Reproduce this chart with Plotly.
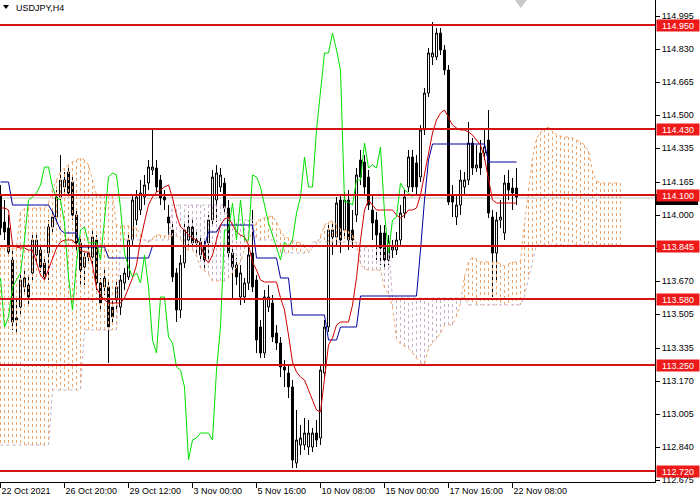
import plotly.graph_objects as go

# ---------------- data ----------------
tick_bars = [0, 16, 32, 48, 64, 80, 96, 112, 128]
tick_labels = ["22 Oct 2021", "26 Oct 20:00", "29 Oct 12:00", "3 Nov 00:00", "5 Nov 16:00",
               "10 Nov 08:00", "15 Nov 00:00", "17 Nov 16:00", "22 Nov 08:00"]
price_ticks = [114.995, 114.830, 114.665, 114.500, 114.335, 114.165, 114.000, 113.835,
               113.670, 113.505, 113.335, 113.170, 113.005, 112.840, 112.675]
hidden_ticks = [113.835]
levels = [114.950, 114.430, 114.100, 113.845, 113.580, 113.250, 112.720]
bid_price = 114.085

open_ = [114.100, 113.965, 113.935, 113.775, 113.475, 113.540, 113.640, 113.650, 113.710, 113.800,
         113.825, 113.760, 113.810, 113.940, 113.990, 114.090, 114.140, 114.215, 114.165, 114.000,
         113.860, 113.740, 113.790, 113.790, 113.875, 113.660, 113.640, 113.640, 113.540, 113.575,
         113.540, 113.660, 113.690, 113.875, 113.975, 114.025, 114.090, 114.160, 114.225, 114.235,
         114.175, 114.090, 113.990, 113.925, 113.710, 113.525, 113.760, 113.875, 113.940, 113.875,
         113.800, 113.840, 113.860, 113.975, 114.075, 114.140, 114.160, 114.035, 113.810, 113.750,
         113.590, 113.590, 113.660, 113.810, 113.675, 113.440, 113.310, 113.540, 113.560, 113.410,
         113.360, 113.240, 113.210, 113.140, 112.760, 112.850, 112.850, 112.840, 112.840, 112.910,
         112.885, 113.210, 113.440, 113.890, 113.890, 114.075, 113.925, 114.075, 113.925, 114.000,
         114.275, 114.265, 114.190, 114.025, 113.975, 113.910, 113.910, 113.775, 113.825, 113.825,
         113.875, 114.010, 114.140, 114.290, 114.260, 114.190, 114.425, 114.610, 114.790, 114.790,
         114.910, 114.825, 114.725, 114.100, 113.990, 114.050, 114.140, 114.175, 114.360, 114.235,
         114.310, 114.310, 114.375, 113.990, 113.810, 113.975, 113.910, 114.160, 114.135, 114.135]
high = [114.150, 114.075, 114.000, 113.825, 113.575, 113.715, 113.725, 113.700, 113.915, 113.915,
        113.850, 113.785, 113.975, 114.025, 114.125, 114.300, 114.215, 114.250, 114.200, 114.025,
        113.885, 113.825, 113.850, 113.925, 113.900, 113.685, 113.725, 113.675, 113.575, 113.675,
        113.700, 113.735, 113.915, 114.100, 114.125, 114.175, 114.200, 114.275, 114.435, 114.275,
        114.200, 114.125, 114.050, 113.965, 113.735, 113.800, 113.965, 114.000, 113.975, 113.915,
        113.900, 113.875, 114.000, 114.225, 114.250, 114.235, 114.185, 114.075, 113.850, 113.785,
        113.750, 113.685, 113.850, 114.025, 113.700, 113.475, 113.625, 113.650, 113.600, 113.450,
        113.390, 113.275, 113.250, 113.175, 113.025, 112.950, 112.985, 112.975, 112.935, 112.975,
        113.250, 113.475, 113.950, 113.965, 114.090, 114.100, 114.115, 114.125, 114.025, 114.235,
        114.325, 114.300, 114.225, 114.100, 114.015, 113.950, 113.950, 113.900, 113.875, 113.915,
        114.050, 114.125, 114.325, 114.325, 114.300, 114.450, 114.635, 114.835, 114.965, 114.935,
        114.935, 114.850, 114.750, 114.150, 114.100, 114.225, 114.215, 114.465, 114.385, 114.350,
        114.375, 114.435, 114.525, 114.025, 114.015, 114.075, 114.200, 114.225, 114.185, 114.235]
low = [113.900, 113.875, 113.800, 113.425, 113.415, 113.500, 113.600, 113.550, 113.675, 113.765,
       113.715, 113.660, 113.675, 113.915, 113.965, 114.075, 114.100, 114.085, 113.975, 113.825,
       113.650, 113.650, 113.765, 113.750, 113.625, 113.525, 113.600, 113.260, 113.450, 113.525,
       113.500, 113.625, 113.675, 113.850, 113.950, 114.000, 114.050, 114.125, 114.200, 114.115,
       114.050, 114.025, 113.900, 113.665, 113.465, 113.485, 113.735, 113.850, 113.825, 113.800,
       113.765, 113.735, 113.765, 113.950, 113.965, 114.115, 114.000, 113.785, 113.575, 113.650,
       113.550, 113.560, 113.625, 113.615, 113.310, 113.285, 113.285, 113.515, 113.365, 113.325,
       113.190, 113.140, 113.085, 112.735, 112.735, 112.800, 112.825, 112.800, 112.815, 112.840,
       112.850, 113.185, 113.415, 113.800, 113.850, 113.810, 113.890, 113.825, 113.835, 113.965,
       114.150, 114.100, 114.025, 113.875, 113.775, 113.750, 113.735, 113.750, 113.785, 113.800,
       113.850, 113.985, 114.115, 114.115, 114.100, 114.165, 114.400, 114.590, 114.750, 114.775,
       114.800, 114.700, 114.050, 113.990, 113.950, 114.000, 114.100, 114.150, 114.200, 114.215,
       114.200, 114.275, 113.985, 113.590, 113.660, 113.935, 113.875, 114.075, 114.025, 114.050]
close = [113.935, 113.915, 113.815, 113.465, 113.485, 113.675, 113.685, 113.590, 113.875, 113.875,
         113.740, 113.690, 113.940, 113.990, 114.090, 114.175, 114.175, 114.110, 114.000, 113.860,
         113.725, 113.790, 113.810, 113.890, 113.660, 113.560, 113.685, 113.440, 113.490, 113.640,
         113.675, 113.710, 113.875, 114.075, 114.090, 114.110, 114.150, 114.240, 114.240, 114.140,
         114.085, 114.075, 113.960, 113.690, 113.525, 113.760, 113.925, 113.940, 113.860, 113.860,
         113.865, 113.775, 113.975, 114.190, 114.210, 114.200, 114.035, 113.810, 113.740, 113.690,
         113.710, 113.660, 113.800, 113.640, 113.375, 113.310, 113.590, 113.590, 113.390, 113.360,
         113.240, 113.225, 113.140, 112.775, 112.875, 112.885, 112.910, 112.910, 112.910, 112.875,
         113.225, 113.440, 113.925, 113.925, 114.060, 113.875, 114.075, 113.875, 113.875, 114.200,
         114.190, 114.140, 114.050, 113.960, 113.900, 113.835, 113.775, 113.865, 113.840, 113.875,
         114.010, 114.090, 114.290, 114.140, 114.140, 114.425, 114.610, 114.810, 114.810, 114.910,
         114.825, 114.725, 114.065, 114.065, 114.050, 114.175, 114.175, 114.360, 114.235, 114.250,
         114.235, 114.340, 114.010, 113.810, 113.975, 113.990, 114.160, 114.125, 114.110, 114.090]

tenkan = [114.035, 114.035, 114.025, 113.850, 113.840, 113.835, 113.835, 113.825, 113.825, 113.765,
          113.700, 113.675, 113.725, 113.785, 113.835, 113.865, 113.875, 113.875, 113.875, 113.850,
          113.825, 113.815, 113.815, 113.750, 113.635, 113.600, 113.575, 113.560, 113.560, 113.560,
          113.560, 113.585, 113.635, 113.685, 113.750, 113.875, 113.965, 114.050, 114.090, 114.115,
          114.125, 114.140, 114.150, 114.085, 114.000, 113.940, 113.925, 113.900, 113.885, 113.875,
          113.860, 113.785, 113.760, 113.800, 113.875, 113.950, 113.980, 113.990, 113.950, 113.915,
          113.900, 113.890, 113.850, 113.765, 113.725, 113.675, 113.665, 113.665, 113.665, 113.665,
          113.585, 113.525, 113.400, 113.265, 113.215, 113.190, 113.175, 113.125, 113.075, 113.025,
          113.015, 113.175, 113.350, 113.385, 113.450, 113.465, 113.465, 113.465, 113.550, 113.685,
          113.875, 114.025, 114.075, 114.050, 114.025, 114.025, 114.025, 114.025, 114.025, 114.000,
          113.985, 114.000, 114.025, 114.025, 114.035, 114.100, 114.200, 114.300, 114.410, 114.475,
          114.510, 114.525, 114.485, 114.450, 114.435, 114.425, 114.425, 114.415, 114.400, 114.375,
          114.350, 114.285, 114.175, 114.075, 114.060, 114.060, 114.060, 114.060, 114.060, 114.060]
kijun = [114.165, 114.165, 114.165, 114.050, 114.050, 114.050, 114.050, 114.050, 114.050, 114.050,
         114.050, 114.050, 114.050, 114.015, 113.965, 113.925, 113.910, 113.910, 113.910, 113.910,
         113.840, 113.840, 113.840, 113.840, 113.840, 113.840, 113.840, 113.785, 113.785, 113.785,
         113.785, 113.785, 113.785, 113.785, 113.785, 113.785, 113.785, 113.785, 113.845, 113.845,
         113.845, 113.845, 113.845, 113.845, 113.845, 113.845, 113.845, 113.845, 113.845, 113.845,
         113.845, 113.845, 113.915, 113.915, 113.915, 113.950, 113.950, 113.950, 113.950, 113.950,
         113.950, 113.950, 113.950, 113.950, 113.785, 113.785, 113.785, 113.785, 113.785, 113.785,
         113.685, 113.685, 113.685, 113.500, 113.500, 113.500, 113.500, 113.500, 113.500, 113.500,
         113.500, 113.500, 113.375, 113.375, 113.375, 113.440, 113.440, 113.440, 113.440, 113.440,
         113.595, 113.595, 113.595, 113.595, 113.595, 113.595, 113.595, 113.595, 113.595, 113.595,
         113.595, 113.595, 113.595, 113.595, 113.595, 113.825, 114.075, 114.275, 114.355, 114.355,
         114.355, 114.355, 114.355, 114.355, 114.355, 114.355, 114.355, 114.355, 114.355, 114.355,
         114.355, 114.355, 114.265, 114.265, 114.265, 114.265, 114.265, 114.265, 114.265, 114.265]

span_a = [113.835, 113.835, 113.835, 113.835, 113.835, 114.015, 114.035, 114.035, 114.035, 114.035,
          114.035, 114.035, 114.060, 114.125, 114.175, 114.215, 114.235, 114.250, 114.265, 114.275,
          114.285, 114.275, 114.250, 114.175, 114.100, 114.100, 114.100, 114.100, 114.095, 113.950,
          113.945, 113.945, 113.945, 113.935, 113.935, 113.905, 113.875, 113.860, 113.885, 113.900,
          113.900, 113.895, 113.895, 113.895, 113.895, 113.880, 113.835, 113.825, 113.825, 113.795,
          113.735, 113.720, 113.705, 113.670, 113.670, 113.670, 113.670, 113.685, 113.710, 113.735,
          113.765, 113.830, 113.875, 113.915, 113.965, 113.980, 113.985, 113.990, 113.995, 113.965,
          113.920, 113.890, 113.885, 113.870, 113.865, 113.860, 113.850, 113.815, 113.835, 113.855,
          113.895, 113.950, 113.965, 113.970, 113.950, 113.930, 113.925, 113.920, 113.900, 113.855,
          113.755, 113.730, 113.725, 113.725, 113.725, 113.725, 113.635, 113.605, 113.540, 113.380,
          113.355, 113.345, 113.335, 113.310, 113.285, 113.260, 113.255, 113.335, 113.360, 113.380,
          113.410, 113.450, 113.450, 113.450, 113.495, 113.560, 113.690, 113.765, 113.790, 113.780,
          113.765, 113.765, 113.765, 113.765, 113.765, 113.755, 113.745, 113.755, 113.765, 113.765,
          113.770, 113.960, 114.135, 114.285, 114.380, 114.415, 114.430, 114.440, 114.420, 114.400,
          114.395, 114.390, 114.390, 114.385, 114.375, 114.365, 114.350, 114.320, 114.220, 114.170,
          114.160, 114.160, 114.160, 114.160, 114.160, 114.160]
span_b = [112.850, 112.850, 112.850, 112.850, 112.850, 112.850, 112.850, 112.850, 112.850, 112.850,
          112.850, 112.850, 112.850, 113.125, 113.125, 113.125, 113.125, 113.125, 113.125, 113.125,
          113.125, 113.425, 113.425, 113.425, 113.425, 113.425, 113.425, 113.425, 113.425, 113.425,
          113.875, 113.875, 113.875, 113.875, 113.875, 113.875, 113.875, 113.875, 113.875, 113.875,
          113.875, 113.875, 113.875, 114.050, 114.050, 114.050, 114.050, 114.050, 114.050, 114.050,
          114.050, 114.050, 114.050, 114.050, 114.050, 114.050, 114.050, 113.975, 113.975, 113.975,
          113.975, 113.975, 113.975, 113.975, 113.875, 113.875, 113.875, 113.875, 113.875, 113.875,
          113.810, 113.810, 113.810, 113.810, 113.810, 113.810, 113.810, 113.810, 113.865, 113.865,
          113.865, 113.865, 113.865, 113.865, 113.865, 113.865, 113.865, 113.865, 113.865, 113.865,
          113.840, 113.840, 113.840, 113.840, 113.840, 113.840, 113.840, 113.840, 113.585, 113.585,
          113.585, 113.585, 113.585, 113.585, 113.585, 113.585, 113.585, 113.585, 113.585, 113.585,
          113.585, 113.585, 113.585, 113.585, 113.585, 113.585, 113.585, 113.550, 113.550, 113.550,
          113.550, 113.550, 113.550, 113.550, 113.550, 113.550, 113.550, 113.550, 113.550, 113.550,
          113.550, 113.595, 113.680, 113.775, 113.850, 113.850, 113.850, 113.850, 113.850, 113.850,
          113.850, 113.850, 113.850, 113.850, 113.850, 113.850, 113.850, 113.850, 113.850, 113.850,
          113.850, 113.850, 113.850, 113.850, 113.850, 113.850]

CHIKOU_SHIFT = 26

# ---------------- figure ----------------
bars = list(range(len(close)))
cloud_bars = list(range(len(span_a)))

FONT = "Liberation Sans, Arial, sans-serif"
SANDY = "#EFA56A"
THISTLE = "#C9AFC9"

fig = go.Figure()

ox, oy, tx, ty = [], [], [], []
for i, a, b in zip(cloud_bars, span_a, span_b):
    if a >= b:
        ox += [i, i, None]; oy += [a, b, None]
    else:
        tx += [i, i, None]; ty += [a, b, None]

fig.add_trace(go.Scatter(x=ox, y=oy, mode="lines", line=dict(color=SANDY, width=1, dash="3px,3px"),
                         hoverinfo="skip"))
fig.add_trace(go.Scatter(x=tx, y=ty, mode="lines", line=dict(color=THISTLE, width=1, dash="3px,3px"),
                         hoverinfo="skip"))
fig.add_trace(go.Scatter(x=cloud_bars, y=span_a, mode="lines", line=dict(color=SANDY, width=1, dash="3px,3px"),
                         hoverinfo="skip"))
fig.add_trace(go.Scatter(x=cloud_bars, y=span_b, mode="lines", line=dict(color=THISTLE, width=1, dash="3px,3px"),
                         hoverinfo="skip"))

fig.add_trace(go.Candlestick(
    x=bars, open=open_, high=high, low=low, close=close,
    increasing=dict(line=dict(color="black", width=1), fillcolor="white"),
    decreasing=dict(line=dict(color="black", width=1), fillcolor="black"),
    whiskerwidth=0, hoverinfo="skip"))

fig.add_trace(go.Scatter(x=bars, y=kijun, mode="lines", line=dict(color="#0000A0", width=1), hoverinfo="skip"))
fig.add_trace(go.Scatter(x=bars, y=tenkan, mode="lines", line=dict(color="#D00000", width=1), hoverinfo="skip"))
fig.add_trace(go.Scatter(x=bars[:-CHIKOU_SHIFT], y=close[CHIKOU_SHIFT:], mode="lines",
                         line=dict(color="#00E000", width=1), hoverinfo="skip"))

PLOT_W, PLOT_H = 655, 482
YSPAN = 115.075 - 112.665

shapes = []
shapes.append(dict(type="line", xref="paper", x0=0, x1=1, yref="y", y0=bid_price, y1=bid_price,
                   line=dict(color="#C0C0C0", width=1), layer="below"))
for lv in levels:
    shapes.append(dict(type="line", xref="paper", x0=0, x1=1, yref="y", y0=lv, y1=lv,
                       line=dict(color="#D41414", width=2)))
# current-price box (mostly hidden under the 114.100 label)
shapes.append(dict(type="rect", xref="paper", x0=1 + 1 / PLOT_W, x1=1 + 43 / PLOT_W, yref="y",
                   y0=bid_price - 7 * YSPAN / PLOT_H, y1=bid_price + 4 * YSPAN / PLOT_H,
                   fillcolor="black", line=dict(width=0)))
# chart-shift marker and title triangle
shapes.append(dict(type="path", xref="x", yref="paper", path="M 128.6,1 L 131.6,1 L 130.1,0.9834 Z",
                   fillcolor="#C8C8C8", line=dict(width=0)))
shapes.append(dict(type="path", xref="paper", yref="paper",
                   path="M 0.0046,0.9896 L 0.0137,0.9896 L 0.0092,0.9813 Z",
                   fillcolor="black", line=dict(width=0)))

annotations = []
annotations.append(dict(text="USDJPY,H4", xref="paper", x=0, xanchor="left", xshift=14,
                        yref="paper", y=1, yanchor="top", yshift=-1, showarrow=False,
                        font=dict(family=FONT, size=9, color="black")))
for lv in levels:
    annotations.append(dict(text=f"{lv:.3f}", xref="paper", x=1, xanchor="left", xshift=1,
                            yref="y", y=lv, showarrow=False, bgcolor="#EE1A1A",
                            width=42, height=11, borderpad=0,
                            font=dict(family=FONT, size=9, color="white")))

fig.update_layout(
    width=700, height=500,
    margin=dict(l=0, r=45, t=0, b=18, autoexpand=False),
    paper_bgcolor="white", plot_bgcolor="white",
    showlegend=False, hovermode=False,
    shapes=shapes, annotations=annotations,
    xaxis=dict(range=[-0.125, 163.625], tickvals=tick_bars, ticktext=tick_labels,
               ticks="outside", ticklen=5, tickcolor="black", showline=True, linecolor="black",
               linewidth=1, showgrid=False, zeroline=False, ticklabelposition="outside right",
               tickfont=dict(family=FONT, size=9, color="black"), rangeslider=dict(visible=False),
               fixedrange=True, automargin=False),
    yaxis=dict(range=[112.665, 115.075], side="right", tickvals=price_ticks,
               ticktext=["" if p in hidden_ticks else f"{p:.3f}" for p in price_ticks],
               ticks="outside", ticklen=4, tickcolor="black", showline=True, linecolor="black",
               linewidth=1, showgrid=False, zeroline=False,
               tickfont=dict(family=FONT, size=9, color="black"), fixedrange=True, automargin=False),
)

fig.write_html("out.html", config={"displayModeBar": False, "staticPlot": True},
               post_script="document.body.style.margin='0';")
